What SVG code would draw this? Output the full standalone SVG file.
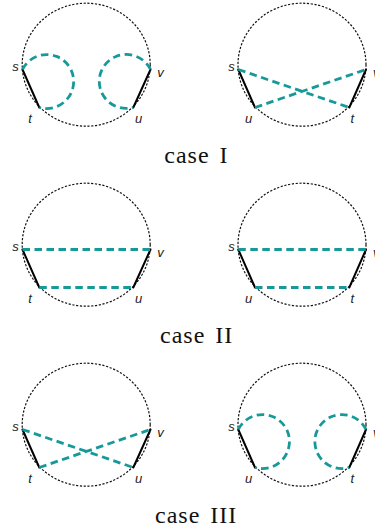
<svg xmlns="http://www.w3.org/2000/svg" width="375" height="531" viewBox="0 0 375 531">
<style>
.bg{fill:#ffffff}
.circ{fill:none;stroke:#111;stroke-width:1.2;stroke-dasharray:2.2 1.6}
.solid{fill:none;stroke:#000;stroke-width:2;stroke-linecap:round}
.teal{fill:none;stroke:#17999a;stroke-width:2.8;stroke-dasharray:7.5 4.5}
.lbl{font-family:"Liberation Sans",Arial,sans-serif;font-style:italic;font-size:13px;fill:#222}
.cap{font-family:"Liberation Serif","Times New Roman",serif;font-size:24px;letter-spacing:1px;word-spacing:3px;fill:#111}
</style>
<rect class="bg" x="0" y="0" width="375" height="531"/>

<!-- circles -->
<g id="circle-1L"><ellipse class="circ" cx="86.2" cy="64.7" rx="64" ry="61.5"/></g>
<g id="circle-1R"><ellipse class="circ" cx="302" cy="64.7" rx="64" ry="61.5"/></g>
<g id="circle-2L"><ellipse class="circ" cx="86.2" cy="244.7" rx="64" ry="61.5"/></g>
<g id="circle-2R"><ellipse class="circ" cx="302" cy="244.7" rx="64" ry="61.5"/></g>
<g id="circle-3L"><ellipse class="circ" cx="86.2" cy="424.7" rx="64" ry="61.5"/></g>
<g id="circle-3R"><ellipse class="circ" cx="302" cy="424.7" rx="64" ry="61.5"/></g>

<!-- connectors -->
<g id="connectors">
  <!-- solid edges -->
  <line class="solid" x1="22.5" y1="69.5" x2="39.3" y2="107.5"/>
  <line class="solid" x1="150.5" y1="69.5" x2="133.3" y2="107.5"/>
  <line class="solid" x1="238.3" y1="69.5" x2="255" y2="107.5"/>
  <line class="solid" x1="366" y1="69.5" x2="349.3" y2="107.5"/>

  <line class="solid" x1="22.5" y1="249.5" x2="39.3" y2="287.5"/>
  <line class="solid" x1="150.5" y1="249.5" x2="133.3" y2="287.5"/>
  <line class="solid" x1="238.3" y1="249.5" x2="255" y2="287.5"/>
  <line class="solid" x1="366" y1="249.5" x2="349.3" y2="287.5"/>

  <line class="solid" x1="22.5" y1="429.5" x2="39.3" y2="467.5"/>
  <line class="solid" x1="150.5" y1="429.5" x2="133.3" y2="467.5"/>
  <line class="solid" x1="238.3" y1="429.5" x2="255" y2="467.5"/>
  <line class="solid" x1="366" y1="429.5" x2="349.3" y2="467.5"/>

  <!-- case I -->
  <path class="teal" d="M22.5,69.5 A27,27 0 1 1 39.3,107.5"/>
  <path class="teal" d="M150.5,69.5 A27,27 0 1 0 133.3,107.5"/>
  <line class="teal" x1="238.3" y1="69.5" x2="349.3" y2="107.5"/>
  <line class="teal" x1="255" y1="107.5" x2="366" y2="69.5"/>

  <!-- case II -->
  <line class="teal" x1="22.5" y1="249.5" x2="150.5" y2="249.5"/>
  <line class="teal" x1="39.3" y1="287.5" x2="133.3" y2="287.5"/>
  <line class="teal" x1="238.3" y1="249.5" x2="366" y2="249.5"/>
  <line class="teal" x1="255" y1="287.5" x2="349.3" y2="287.5"/>

  <!-- case III -->
  <line class="teal" x1="22.5" y1="429.5" x2="133.3" y2="467.5"/>
  <line class="teal" x1="39.3" y1="467.5" x2="150.5" y2="429.5"/>
  <path class="teal" d="M238.3,429.5 A27,27 0 1 1 255,467.5"/>
  <path class="teal" d="M366,429.5 A27,27 0 1 0 349.3,467.5"/>
</g>

<!-- labels -->
<g id="labels-1">
  <text class="lbl" x="12.3" y="70.7">s</text>
  <text class="lbl" x="28.3" y="122.5">t</text>
  <text class="lbl" x="135" y="122.5">u</text>
  <text class="lbl" x="157.3" y="76.7">v</text>
  <text class="lbl" x="228.3" y="70.7">s</text>
  <text class="lbl" x="245" y="122.5">u</text>
  <text class="lbl" x="350.5" y="122.5">t</text>
  <text class="lbl" x="373" y="76.7">v</text>
</g>
<g id="labels-2">
  <text class="lbl" x="12.3" y="250.7">s</text>
  <text class="lbl" x="28.3" y="302.5">t</text>
  <text class="lbl" x="135" y="302.5">u</text>
  <text class="lbl" x="157.3" y="256.7">v</text>
  <text class="lbl" x="228.3" y="250.7">s</text>
  <text class="lbl" x="245" y="302.5">u</text>
  <text class="lbl" x="350.5" y="302.5">t</text>
  <text class="lbl" x="373" y="256.7">v</text>
</g>
<g id="labels-3">
  <text class="lbl" x="12.3" y="430.7">s</text>
  <text class="lbl" x="28.3" y="482.5">t</text>
  <text class="lbl" x="135" y="482.5">u</text>
  <text class="lbl" x="157.3" y="436.7">v</text>
  <text class="lbl" x="228.3" y="430.7">s</text>
  <text class="lbl" x="245" y="482.5">u</text>
  <text class="lbl" x="350.5" y="482.5">t</text>
  <text class="lbl" x="373" y="436.7">v</text>
</g>

<!-- captions -->
<g id="captions">
  <text class="cap" x="164.3" y="162.7">case I</text>
  <text class="cap" x="160" y="342.7">case II</text>
  <text class="cap" x="155" y="522.7">case III</text>
</g>
</svg>
